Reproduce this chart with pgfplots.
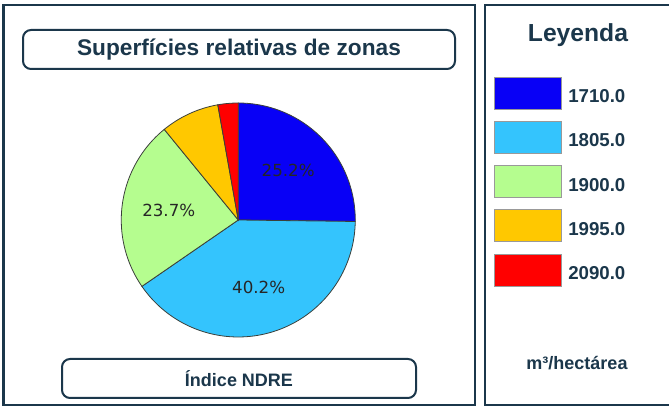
\documentclass[border=0pt]{standalone}
\usepackage{pgfplots}
\pgfplotsset{compat=1.18}
\usepackage{fontspec}
\setmainfont{Liberation Sans}
\newfontfamily\dejavu{DejaVu Sans}
\definecolor{navy}{HTML}{1B374B}
\definecolor{pblue}{HTML}{0800F6}
\definecolor{plblue}{HTML}{34C4FD}
\definecolor{pgreen}{HTML}{B5FD8F}
\definecolor{pyellow}{HTML}{FFC800}
\definecolor{pred}{HTML}{FF0000}
\definecolor{edgec}{HTML}{3A3F3A}
\newcommand\pctfont{\dejavu\fontsize{12.5}{15}\selectfont}
\begin{document}
\begin{tikzpicture}[x=0.75pt,y=0.75pt]
\useasboundingbox (0,0) rectangle (669,406);
\fill[white] (0,0) rectangle (669,406);
% panels
\draw[navy, line width=1.5pt] (3.5,1) rectangle (475,401);
\draw[navy, line width=1.5pt] (485,1) rectangle (674,401);
% title box
\draw[navy, line width=1.5pt, rounded corners=6pt] (23,337) rectangle (455,376);
\node[font=\bfseries\fontsize{17}{20}\selectfont, text=navy] at (239,356.5) {Superfícies relativas de zonas};
% bottom box
\draw[navy, line width=1.5pt, rounded corners=6pt] (62,8) rectangle (416,47);
\node[font=\bfseries\fontsize{13.5}{16}\selectfont, text=navy] at (239,27.5) {Índice NDRE};
% pie
\begin{axis}[at={(178.7pt,139.5pt)}, anchor=center, scale only axis,
  width=175.5pt, height=175.5pt, xmin=-1, xmax=1, ymin=-1, ymax=1,
  hide axis, clip=false]
\xdef\cum{0}
\pgfplotsforeachungrouped \v/\c in {25.2/pblue,40.2/plblue,23.7/pgreen,8.1/pyellow,2.8/pred}{
  \pgfmathsetmacro\aS{90-3.6*\cum}
  \pgfmathsetmacro\cumn{\cum+\v}
  \pgfmathsetmacro\aE{90-3.6*\cumn}
  \edef\temp{\noexpand\addplot[fill=\c, draw=edgec, line width=0.6pt, domain=\aE:\aS, samples=90, variable=\noexpand\t] ({cos(\noexpand\t)},{sin(\noexpand\t)}) -- (axis cs:0,0) -- cycle;}
  \temp
  \ifdim\v pt>10pt
    \pgfmathsetmacro\am{90-3.6*(\cum+\v/2)}
    \pgfmathsetmacro\lx{0.6*cos(\am)}
    \pgfmathsetmacro\ly{0.6*sin(\am)}
    \edef\temp{\noexpand\node[font=\noexpand\pctfont, text=black!85] at (axis cs:\lx,\ly) {\v\noexpand\%};}
    \temp
  \fi
  \xdef\cum{\cumn}
}
\end{axis}
% legend
\node[font=\bfseries\fontsize{18.5}{22}\selectfont, text=navy] at (578,371) {Leyenda};
\foreach \i/\c/\l in {0/pblue/1710.0,1/plblue/1805.0,2/pgreen/1900.0,3/pyellow/1995.0,4/pred/2090.0}{
  \pgfmathsetmacro\yt{406-77-44.3*\i}
  \fill[\c, draw=gray!80, line width=0.6pt] (494,\yt-32) rectangle (561,\yt);
  \node[anchor=west, inner sep=0pt, font=\bfseries\fontsize{14}{16}\selectfont, text=navy] at (568,\yt-19) {\l};
}
\node[font=\bfseries\fontsize{13.5}{16}\selectfont, text=navy] at (577,43) {m³/hectárea};
\end{tikzpicture}
\end{document}
